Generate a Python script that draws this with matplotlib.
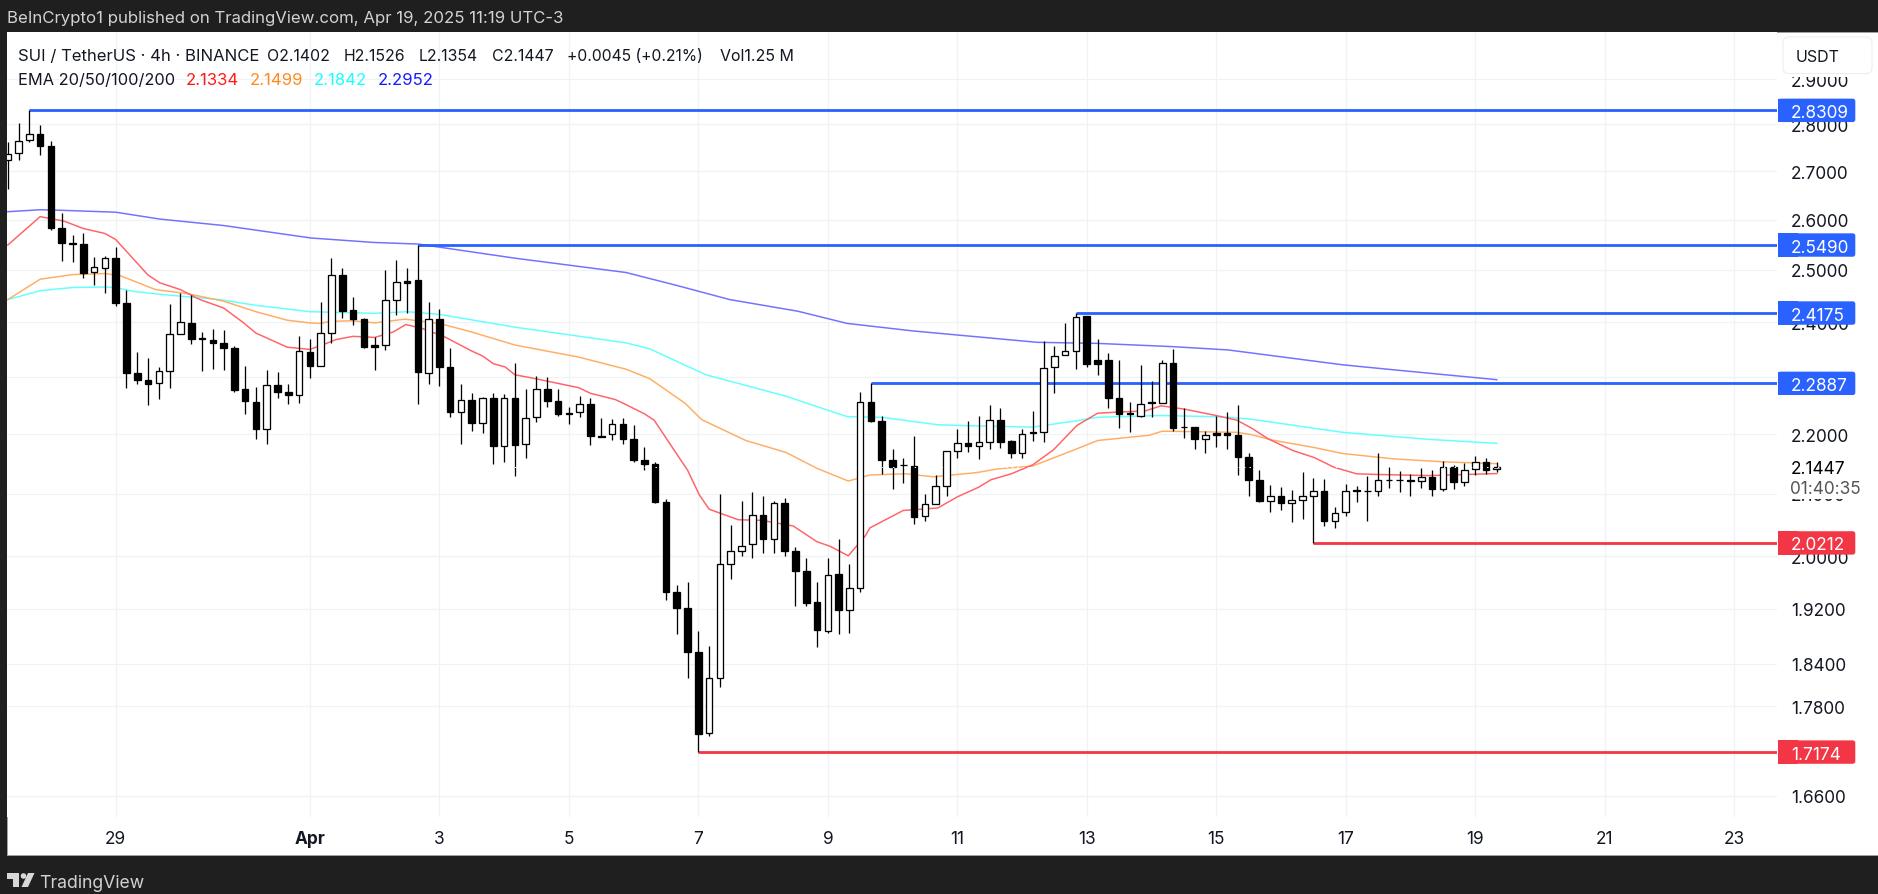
import numpy as np
import matplotlib
matplotlib.use("Agg")
import matplotlib.pyplot as plt
from matplotlib.patches import Rectangle, FancyBboxPatch, Polygon, Circle
from matplotlib.transforms import IdentityTransform

plt.rcParams['font.family'] = ['Inter', 'DejaVu Sans']

# ---- data ----
opens = [2.724,2.738,2.767,2.779,2.753,2.584,2.553,2.551,2.496,2.503,2.523,2.436,2.308,2.295,2.289,2.311,2.378,2.399,2.371,2.368,
 2.361,2.352,2.279,2.256,2.209,2.286,2.274,2.268,2.345,2.320,2.380,2.491,2.423,2.407,2.358,2.358,2.443,2.479,2.481,2.308,
 2.407,2.318,2.238,2.259,2.219,2.263,2.180,2.262,2.183,2.230,2.279,2.257,2.237,2.238,2.252,2.197,2.201,2.218,2.192,2.156,
 2.150,2.086,1.946,1.921,1.856,1.743,1.820,1.989,2.009,2.019,2.065,2.028,2.085,2.009,1.978,1.930,1.887,1.973,1.918,1.952,
 2.255,2.222,2.156,2.148,2.146,2.064,2.084,2.113,2.172,2.184,2.180,2.187,2.224,2.188,2.167,2.203,2.203,2.318,2.339,2.347,
 2.411,2.330,2.330,2.263,2.236,2.232,2.255,2.254,2.325,2.213,2.212,2.191,2.202,2.202,2.198,2.161,2.122,2.088,2.096,2.085,
 2.090,2.097,2.104,2.056,2.070,2.106,2.105,2.104,2.123,2.123,2.123,2.121,2.127,2.108,2.145,2.120,2.141,2.153,2.1402]
highs = [2.762,2.803,2.8309,2.799,2.765,2.613,2.569,2.573,2.526,2.527,2.545,2.462,2.345,2.335,2.318,2.434,2.455,2.452,2.382,2.388,
 2.386,2.356,2.320,2.282,2.313,2.309,2.288,2.375,2.369,2.438,2.523,2.503,2.448,2.408,2.373,2.500,2.520,2.503,2.549,2.438,
 2.425,2.352,2.288,2.272,2.264,2.272,2.270,2.326,2.279,2.302,2.300,2.278,2.247,2.267,2.263,2.227,2.226,2.227,2.215,2.178,
 2.153,2.092,1.956,1.961,1.887,1.866,2.100,2.050,2.088,2.103,2.096,2.089,2.093,2.015,1.997,1.961,1.997,2.028,1.989,2.273,
 2.2887,2.231,2.174,2.160,2.197,2.100,2.131,2.172,2.209,2.222,2.231,2.251,2.245,2.190,2.209,2.240,2.366,2.356,2.399,2.4175,
 2.411,2.369,2.344,2.330,2.255,2.321,2.292,2.330,2.350,2.245,2.212,2.205,2.231,2.239,2.250,2.168,2.140,2.115,2.111,2.107,
 2.136,2.126,2.124,2.079,2.116,2.112,2.129,2.168,2.144,2.138,2.133,2.143,2.140,2.154,2.147,2.151,2.162,2.160,2.1526]
lows = [2.663,2.723,2.762,2.735,2.578,2.518,2.516,2.484,2.470,2.456,2.431,2.281,2.288,2.250,2.261,2.281,2.378,2.359,2.310,2.315,
 2.312,2.273,2.235,2.191,2.183,2.263,2.252,2.254,2.298,2.320,2.362,2.408,2.395,2.353,2.313,2.349,2.413,2.417,2.252,2.287,
 2.284,2.230,2.183,2.205,2.202,2.150,2.153,2.129,2.159,2.220,2.247,2.231,2.218,2.230,2.182,2.195,2.190,2.183,2.153,2.140,
 2.085,1.934,1.883,1.820,1.7174,1.739,1.807,1.965,2.000,1.998,2.006,2.005,2.001,1.925,1.925,1.864,1.884,1.883,1.884,1.945,
 2.220,2.132,2.108,2.117,2.052,2.056,2.084,2.097,2.159,2.169,2.157,2.174,2.176,2.159,2.159,2.189,2.187,2.272,2.339,2.315,
 2.318,2.304,2.245,2.210,2.203,2.229,2.230,2.254,2.206,2.193,2.174,2.167,2.178,2.174,2.131,2.097,2.086,2.070,2.073,2.055,
 2.059,2.0212,2.048,2.045,2.064,2.086,2.056,2.096,2.109,2.103,2.096,2.109,2.096,2.104,2.108,2.112,2.131,2.133,2.1354]
closes = [2.737,2.765,2.779,2.753,2.584,2.553,2.552,2.495,2.505,2.524,2.436,2.307,2.294,2.288,2.311,2.378,2.400,2.370,2.370,2.361,
 2.352,2.277,2.257,2.208,2.286,2.274,2.268,2.347,2.320,2.380,2.490,2.422,2.406,2.354,2.354,2.442,2.476,2.475,2.309,2.406,
 2.318,2.238,2.259,2.219,2.263,2.180,2.262,2.182,2.228,2.279,2.257,2.235,2.235,2.252,2.196,2.195,2.218,2.191,2.156,2.150,
 2.086,1.945,1.921,1.856,1.742,1.820,1.989,2.008,2.017,2.065,2.027,2.085,2.009,1.978,1.929,1.888,1.972,1.918,1.951,2.255,
 2.222,2.156,2.144,2.147,2.063,2.083,2.112,2.171,2.184,2.180,2.186,2.224,2.187,2.167,2.200,2.202,2.316,2.338,2.347,2.410,
 2.323,2.324,2.263,2.235,2.235,2.252,2.254,2.325,2.210,2.212,2.191,2.199,2.199,2.199,2.161,2.122,2.089,2.096,2.085,2.090,
 2.097,2.104,2.056,2.069,2.104,2.105,2.104,2.122,2.122,2.122,2.121,2.127,2.108,2.145,2.120,2.140,2.152,2.140,2.1447]

ema200_x = [0,3,4.8,10,14.1,20,28.1,34,38,47,57.3,62,66.9,73.2,77.8,83.9,95.4,101,108,113.1,123.7,128.4,138]
ema200_y = [2.616,2.620,2.619,2.615,2.601,2.588,2.563,2.554,2.551,2.523,2.495,2.470,2.443,2.421,2.398,2.384,2.363,2.361,2.355,2.349,2.322,2.313,2.2952]
ema100_x = [0,3,6,9,10,11.5,14.1,19.6,23,28,34,37,40,47,57.3,59.5,64.7,72.1,77.8,81,86.2,89.8,95,99.1,101,106.9,112,115.1,123.7,131.7,138]
ema100_y = [2.443,2.460,2.466,2.467,2.466,2.459,2.453,2.443,2.432,2.420,2.417,2.420,2.415,2.391,2.362,2.351,2.304,2.266,2.230,2.229,2.216,2.214,2.212,2.223,2.229,2.232,2.230,2.226,2.203,2.191,2.1842]
ema50_x = [0,3,6,9,10.4,13.7,16.7,20,23,25.9,28,28.9,30,32,34,36.8,40,43,47,52.9,57.3,59.5,62.8,64.3,68.4,72.1,75,77.9,79.9,83.2,85.8,89.8,91.7,95,99.1,101,105.8,107,113.9,115.3,117.1,121.1,123.7,128.4,133,138]
ema50_y = [2.443,2.482,2.491,2.493,2.489,2.462,2.454,2.440,2.420,2.404,2.399,2.398,2.402,2.403,2.399,2.406,2.398,2.382,2.358,2.336,2.314,2.297,2.253,2.225,2.189,2.169,2.142,2.121,2.131,2.133,2.128,2.135,2.141,2.146,2.175,2.189,2.198,2.205,2.203,2.199,2.190,2.177,2.167,2.158,2.153,2.1499]
ema20_x = [0,3,5.2,7,9,10,13,14.1,16,17.8,20,21.8,23,25.9,28,29.4,30.4,32,34,35.7,36.9,38.5,40.5,43,44,45,46.1,47,48.9,52.9,54,56.3,57.3,59,59.9,63,64.1,65,67.7,69.9,72.8,75,76.2,77.9,79.5,79.9,83,86.2,88,90,91.1,93,95,96.9,99.1,101,102.8,105.4,106.9,109.1,112,113.9,115.3,116.8,119.1,121.1,122.9,125,126.7,131.7,138]
ema20_y = [2.549,2.606,2.597,2.582,2.572,2.560,2.490,2.475,2.462,2.443,2.427,2.400,2.380,2.354,2.350,2.360,2.368,2.374,2.372,2.382,2.396,2.388,2.373,2.347,2.338,2.324,2.318,2.304,2.297,2.281,2.271,2.260,2.251,2.235,2.224,2.139,2.098,2.075,2.058,2.057,2.048,2.023,2.016,2.001,2.033,2.045,2.073,2.077,2.095,2.111,2.123,2.133,2.148,2.173,2.215,2.236,2.238,2.240,2.249,2.243,2.232,2.224,2.210,2.192,2.172,2.160,2.144,2.133,2.132,2.130,2.1334]

level_prices = [2.8309, 2.5490, 2.4175, 2.2887, 2.0212, 1.7174]
level_starts = [2, 38, 99, 80, 121, 64]
level_labels = ['2.8309', '2.5490', '2.4175', '2.2887', '2.0212', '1.7174']
level_is_support = [False, False, False, False, True, True]

price_ticks = [2.9, 2.8, 2.7, 2.6, 2.5, 2.4, 2.3, 2.2, 2.1, 2.0, 1.92, 1.84, 1.78, 1.66]
date_ticks = [10, 28, 40, 52, 64, 76, 88, 100, 112, 124, 136, 148, 160]
date_labels = ['29', 'Apr', '3', '5', '7', '9', '11', '13', '15', '17', '19', '21', '23']
last_price = 2.1447

# ---- style ----
W, H = 1878, 895
px = 0.72
DARK = '#1f1f1f'
INK = '#131722'
BLUE = '#2962FF'
RED = '#F23645'

fig = plt.figure(figsize=(W/100, H/100), dpi=100, facecolor=DARK)
L, R, T, B = 7, 1777, 33, 818
ax = fig.add_axes([L/W, 1-B/H, (R-L)/W, (B-T)/H], zorder=2)
ax.set_facecolor('white')
ax.set_yscale('log')
ax.set_ylim(1.6327, 3.009)
ax.set_xlim(-0.074, 163.97)
for s in ax.spines.values():
    s.set_visible(False)
ax.minorticks_off()
ax.tick_params(left=False, bottom=False, labelleft=False, labelbottom=False,
               which='both')
ax.set_xticks(date_ticks)
ax.set_yticks(price_ticks)
ax.grid(True, color='#f1f2f5', lw=1.3*px, zorder=0)
ax.set_axisbelow(True)

n = np.arange(len(opens))
emas = [(ema100_x, ema100_y, '#66FFFF'), (ema50_x, ema50_y, '#FFAE66'),
        (ema20_x, ema20_y, '#FF6468'), (ema200_x, ema200_y, '#7272FF')]
for ex, ey, c in emas:
    ax.plot(ex, ey, color=c, lw=1.5*px, zorder=2)

for p, s, sup in zip(level_prices, level_starts, level_is_support):
    ax.plot([s, 200], [p, p], color=RED if sup else BLUE, lw=2.8*px, zorder=3,
            solid_capstyle='butt', scalex=False)

ax.vlines(n, lows, highs, color='black', lw=1.3*px, zorder=4)
o = np.array(opens); c = np.array(closes)
up = c >= o
bw = 6.6/10.79
ax.bar(n, np.abs(c-o), bottom=np.minimum(o, c), width=bw,
       color=['white' if u else 'black' for u in up],
       edgecolor='black', linewidth=1.3*px, zorder=5)
ax.axhline(last_price, color='white', lw=1*px, ls=(0, (1.4, 4)), zorder=6)

# figure-level furniture, in pixel coordinates from the top-left corner
ident = IdentityTransform()
def pxy(x, y):
    return x, H-y
def ftext(x, y, s, **kw):
    kw.setdefault('va', 'center_baseline')
    kw.setdefault('color', INK)
    return fig.text(x, H-y, s, transform=ident, **kw)
def yof(p):
    return H - ax.transData.transform((0, p))[1]

fig.add_artist(Rectangle(pxy(7, 856), 1870.5, 823, transform=ident, fc='white',
                         ec='#a0a0a0', lw=1*px, zorder=1))
# y-axis labels
AX_FS = 12.4
for p in price_ticks:
    ftext(1791, yof(p), f'{p:.4f}', fontsize=AX_FS, zorder=5)
for t, lab in zip(date_ticks, date_labels):
    x = ax.transData.transform((t, 2))[0]
    ftext(x, 838, lab, fontsize=AX_FS, ha='center', zorder=5,
          fontweight='bold' if lab == 'Apr' else 'normal')

# white masks over clipped labels
fig.add_artist(Rectangle(pxy(1778, 78), 98, 44, transform=ident, fc='white', ec='none', zorder=6))
fig.add_artist(Rectangle(pxy(1778, 500), 98, 44, transform=ident, fc='white', ec='none', zorder=6))
ftext(1791, yof(last_price), f'{last_price:.4f}', fontsize=AX_FS, color='black', zorder=8)
ftext(1790, 488, '01:40:35', fontsize=AX_FS, color='#555555', zorder=8)

# USDT button
fig.add_artist(FancyBboxPatch(pxy(1783, 74.5), 89, 36.5, boxstyle='round,pad=0,rounding_size=6',
                              transform=ident, fc='white', ec='#ececec', lw=1*px, zorder=7))
ftext(1796, 56, 'USDT', fontsize=11.5, zorder=8)

# price tags
for p, lab, sup in zip(level_prices, level_labels, level_is_support):
    col = RED if sup else BLUE
    y = yof(p)
    fig.add_artist(FancyBboxPatch(pxy(1778.3, y+11.7), 77, 23.4, boxstyle='round,pad=0,rounding_size=2.5',
                                  transform=ident, fc=col, ec='none', zorder=9))
    fig.add_artist(Rectangle(pxy(1778.3, y+11.7), 20, 23.4, transform=ident, fc=col, ec='none', zorder=9))
    ftext(1791, y, lab, fontsize=AX_FS, color='white', zorder=10)

# header / legend
ftext(7, 17, 'BeInCrypto1 published on TradingView.com, Apr 19, 2025 11:19 UTC-3',
      fontsize=12.1, color='#d2d2d2', zorder=8)
ftext(18.5, 55, 'SUI / TetherUS · 4h · BINANCE', fontsize=12, zorder=8)
ftext(267, 55, 'O2.1402', fontsize=11.4, zorder=8)
ftext(344, 55, 'H2.1526', fontsize=11.4, zorder=8)
ftext(419, 55, 'L2.1354', fontsize=11.4, zorder=8)
ftext(492, 55, 'C2.1447', fontsize=11.4, zorder=8)
ftext(567, 55, '+0.0045 (+0.21%)', fontsize=11.3, zorder=8)
ftext(720, 55, 'Vol1.25 M', fontsize=11.5, zorder=8)
ftext(18.5, 79, 'EMA 20/50/100/200', fontsize=11.8, zorder=8)
ftext(186, 79, '2.1334', fontsize=12, color='#FF1A1A', zorder=8)
ftext(250, 79, '2.1499', fontsize=12, color='#FF8A1F', zorder=8)
ftext(314, 79, '2.1842', fontsize=12, color='#1AFFFF', zorder=8)
ftext(377.6, 79, '2.2952', fontsize=12, color='#1A1AFF', zorder=8)

# TradingView logo
LOGO = '#d8d8d8'
fig.add_artist(Polygon([pxy(*q) for q in [(7,874),(19,874),(19,888),(13,888),(13,879.5),(7,879.5)]],
                       transform=ident, fc=LOGO, ec='none', zorder=8))
fig.add_artist(Circle(pxy(23.5, 877), 2.8, transform=ident, fc=LOGO, ec='none', zorder=8))
fig.add_artist(Polygon([pxy(*q) for q in [(28,874),(34.5,874),(28,888),(21.5,888)]],
                       transform=ident, fc=LOGO, ec='none', zorder=8))
ftext(39.5, 881.5, 'TradingView', fontsize=12.7, color='#d2d2d2', zorder=8)

fig.savefig('out.png', dpi=100, facecolor=DARK)
